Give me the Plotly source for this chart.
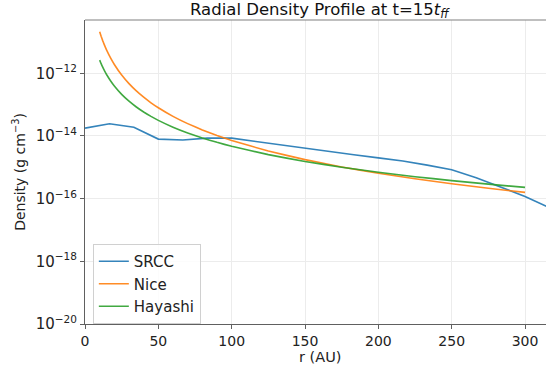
import numpy as np
import plotly.graph_objects as go

# ---- data ----
srcc_r = [0, 16.7, 33.3, 50, 66.7, 83.3, 100, 116.7, 133.3, 150, 166.7, 183.3,
          200, 216.7, 233.3, 250, 266.7, 283.3, 300, 316.7]
srcc_log_rho = [-13.75, -13.61, -13.72, -14.10, -14.13, -14.07, -14.07, -14.18,
                -14.29, -14.40, -14.50, -14.60, -14.70, -14.80, -14.93, -15.08,
                -15.33, -15.62, -15.93, -16.29]

model_r = [10, 11, 12, 13, 14, 15, 17.5, 20, 25, 30, 35, 40, 45, 50, 60, 70, 80,
           90, 100, 125, 150, 175, 200, 225, 250, 275, 300]
nice_log_rho = [-10.675, -10.819, -10.950, -11.070, -11.182, -11.286, -11.518,
                -11.720, -12.056, -12.331, -12.563, -12.764, -12.942, -13.100,
                -13.375, -13.607, -13.809, -13.986, -14.145, -14.481, -14.756,
                -14.988, -15.189, -15.367, -15.526, -15.669, -15.801]
hayashi_log_rho = [-11.58, -11.694, -11.798, -11.893, -11.982, -12.064, -12.248,
                   -12.408, -12.674, -12.892, -13.076, -13.236, -13.376, -13.502,
                   -13.720, -13.904, -14.064, -14.204, -14.33, -14.596, -14.814,
                   -14.998, -15.158, -15.299, -15.424, -15.538, -15.642]

series_names = ["SRCC", "Nice", "Hayashi"]
series_colors = ["#1f77b4", "#ff7f0e", "#2ca02c"]

x_ticks = [0, 50, 100, 150, 200, 250, 300]
y_tick_exps = [-20, -18, -16, -14, -12]
title_text = "Radial Density Profile at t=15<i>t</i><sub><i>ff</i></sub>"

FONT = "DejaVu Sans"

fig = go.Figure()
for name, color, xs, ys in zip(series_names, series_colors,
                               [srcc_r, model_r, model_r],
                               [srcc_log_rho, nice_log_rho, hayashi_log_rho]):
    fig.add_trace(go.Scatter(
        x=xs, y=10 ** np.array(ys), mode="lines", name=name,
        line=dict(color=color, width=1.6, shape="spline", smoothing=0.3)
        if xs is model_r else dict(color=color, width=1.6),
        opacity=0.9,
    ))

fig.update_layout(
    width=546, height=370,
    margin=dict(l=85, r=0, t=20, b=46),
    paper_bgcolor="white", plot_bgcolor="white",
    font=dict(family=FONT, size=14, color="#222222"),
    showlegend=True,
    legend=dict(
        x=0.017, y=0.0, xanchor="left", yanchor="bottom",
        bgcolor="rgba(255,255,255,0.85)", bordercolor="#d0d0d0", borderwidth=1,
        font=dict(family=FONT, size=15, color="#222222"),
        tracegroupgap=0, itemwidth=30,
    ),
    annotations=[
        dict(text=title_text, xref="paper", yref="paper", x=0.51, y=1.0,
             yshift=10, xanchor="center", yanchor="middle", showarrow=False,
             font=dict(family=FONT, size=16.5, color="#111111")),
        dict(text="r (AU)", xref="paper", yref="paper", x=0.51, y=0,
             yshift=-23, xanchor="center", yanchor="top", showarrow=False,
             font=dict(family=FONT, size=14.5, color="#222222")),
    ],
    shapes=[
        dict(type="line", xref="paper", yref="paper", x0=0, x1=1, y0=1, y1=1,
             line=dict(color="#808080", width=1.2)),
    ],
)

fig.update_xaxes(
    range=[0, 314.3], tickvals=x_ticks, ticktext=[str(v) for v in x_ticks],
    showgrid=True, gridcolor="#ececec", gridwidth=1, zeroline=False,
    showline=True, linecolor="#606060", linewidth=1.2,
    ticks="outside", ticklen=4, tickcolor="#606060",
    tickfont=dict(family=FONT, size=14, color="#222222"),
)
fig.update_yaxes(
    type="log", range=[-20, -10.30],
    tickvals=[10.0 ** e for e in y_tick_exps],
    ticktext=["10<sup>\u2212%d</sup>" % (-e) for e in y_tick_exps],
    showgrid=True, gridcolor="#ececec", gridwidth=1, zeroline=False,
    showline=True, linecolor="#606060", linewidth=1.2,
    ticks="outside", ticklen=4, tickcolor="#606060",
    tickfont=dict(family=FONT, size=15, color="#222222"),
    title=dict(text="Density (g cm<sup>\u22123</sup>)", standoff=6,
               font=dict(family=FONT, size=14, color="#222222")),
)

fig.write_html("out.html")
